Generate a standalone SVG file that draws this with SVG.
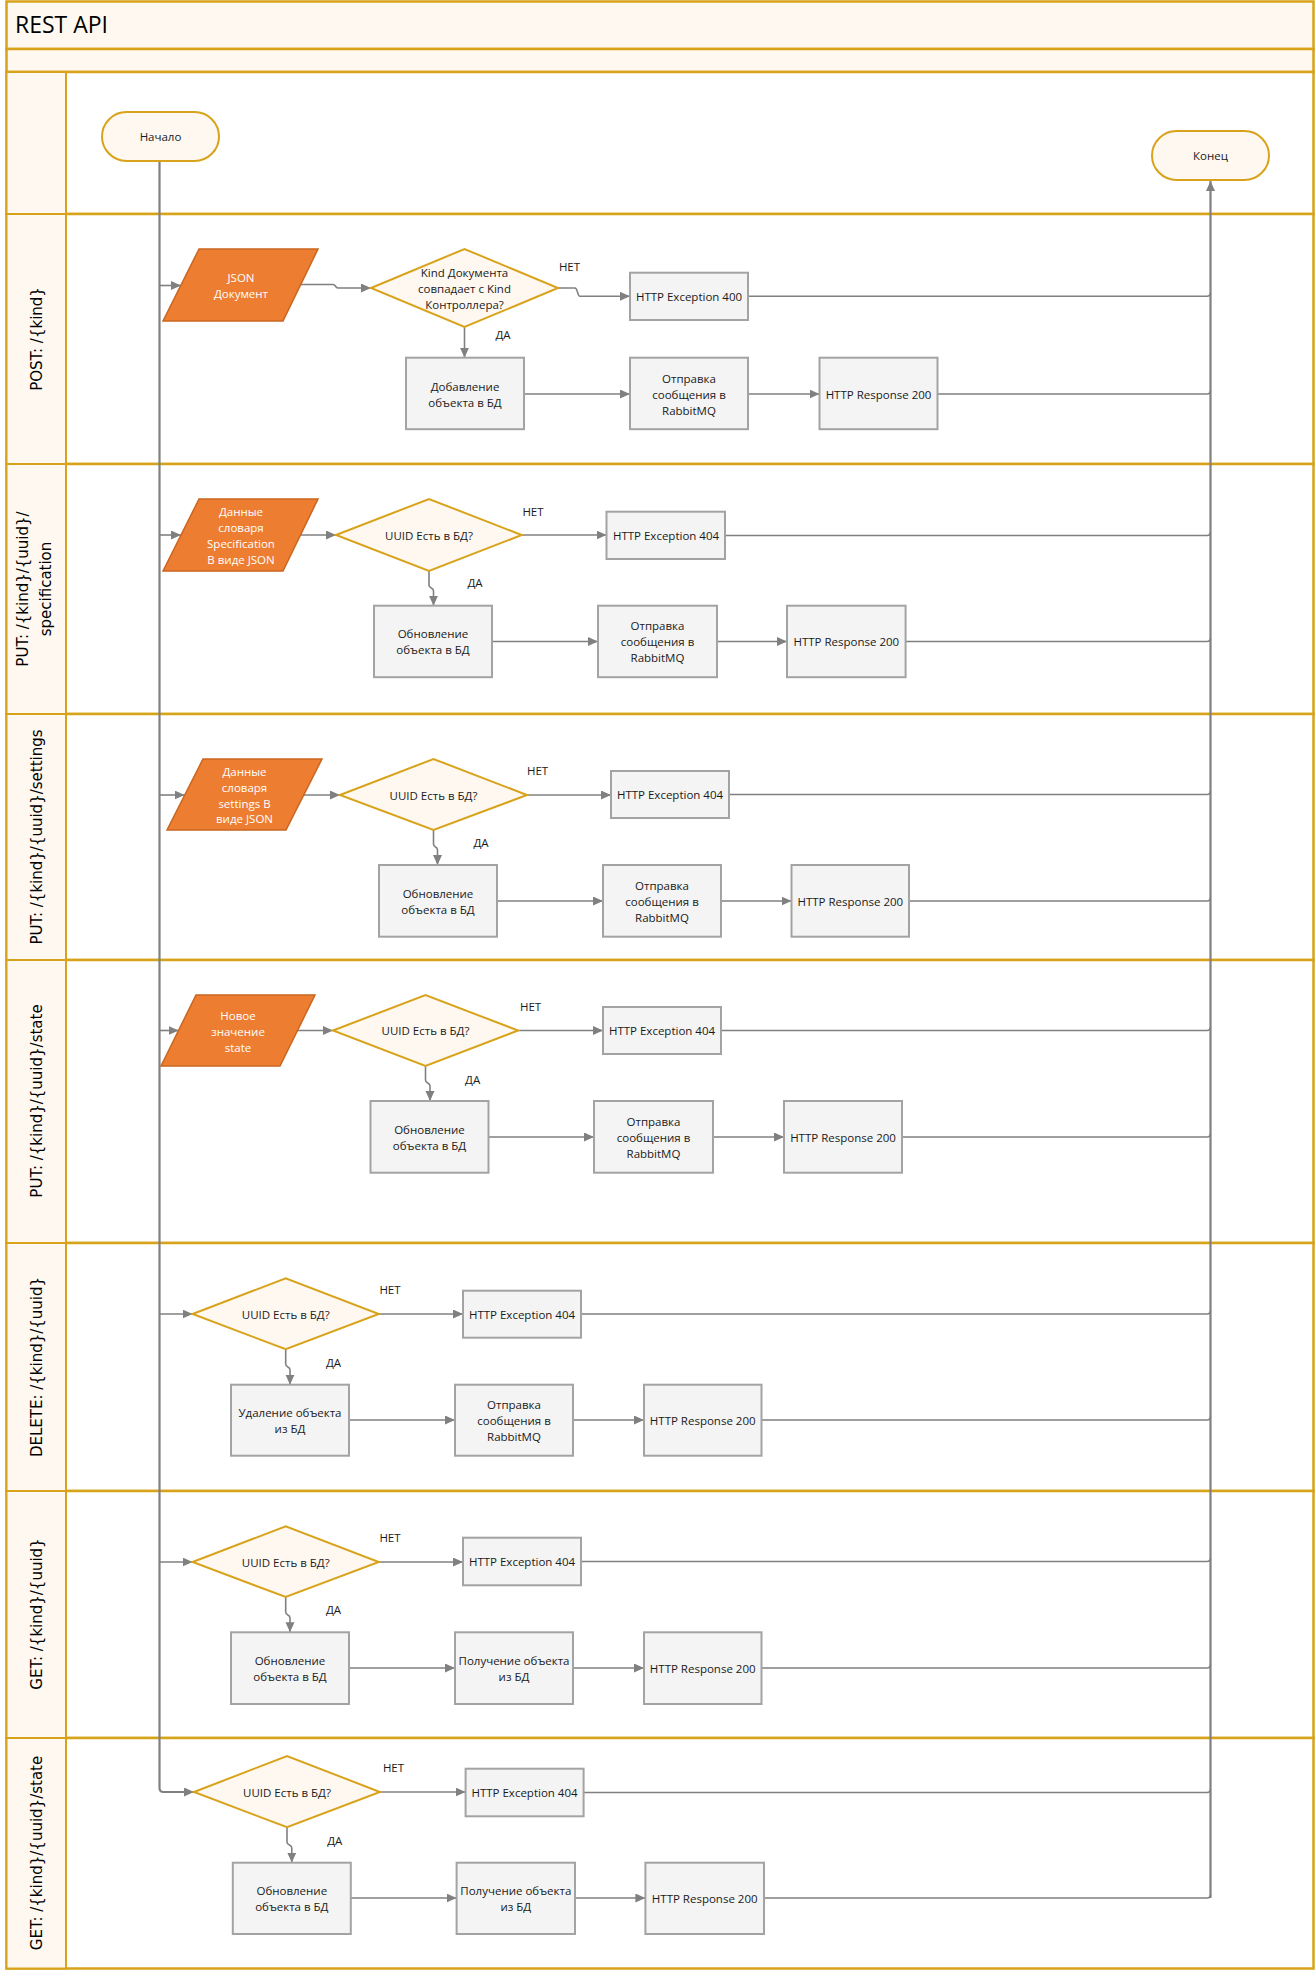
<svg xmlns="http://www.w3.org/2000/svg" width="1316" height="1971" viewBox="0 0 1316 1971">
<defs>
<marker id="arr" markerUnits="userSpaceOnUse" markerWidth="11" markerHeight="10" refX="10" refY="4.5" orient="auto">
<path d="M0,0 L10,4.5 L0,9 z" fill="#808080"/>
</marker>
<style>
.band{fill:#FEF8F1;stroke:#D8A31A;stroke-width:2.5}
.lane{fill:#FFFFFF;stroke:#D8A31A;stroke-width:2.5}
.hdr{fill:#FEF8F1;stroke:#D8A31A;stroke-width:2}
.term{fill:#FEF8F1;stroke:#D8A31A;stroke-width:2}
.box{fill:#F4F4F4;stroke:#A3A3A3;stroke-width:2}
.dia{fill:#FEF8F1;stroke:#D8A31A;stroke-width:2}
.par{fill:#ED7D31;stroke:#C9661F;stroke-width:1.5}
.t{font-family:"Open Sans","Liberation Sans",sans-serif;font-size:11.5px;fill:#1A1A1A;text-anchor:middle;dominant-baseline:central}
.tw{font-family:"Open Sans","Liberation Sans",sans-serif;font-size:11.5px;fill:#FFFFFF;text-anchor:middle;dominant-baseline:central}
.lh{font-family:"DejaVu Sans","Liberation Sans",sans-serif;font-size:15px;fill:#000000;text-anchor:middle}
.title{font-family:"Open Sans","Liberation Sans",sans-serif;font-size:23px;fill:#000000}
.c{fill:none;stroke:#808080;stroke-width:1.6}
.cm{fill:none;stroke:#808080;stroke-width:2.2}
.a{marker-end:url(#arr)}
</style>
</defs>

<g id="pool">
<rect class="band" x="6.5" y="1.5" width="1307" height="47.5"/>
<text class="title" x="15" y="33">REST API</text>
<rect class="band" x="6.5" y="49" width="1307" height="23"/>
<rect class="lane" x="6.5" y="72" width="1307" height="142"/>
<rect class="lane" x="6.5" y="214" width="1307" height="250"/>
<rect class="lane" x="6.5" y="464" width="1307" height="250"/>
<rect class="lane" x="6.5" y="714" width="1307" height="246"/>
<rect class="lane" x="6.5" y="960" width="1307" height="283"/>
<rect class="lane" x="6.5" y="1243" width="1307" height="248"/>
<rect class="lane" x="6.5" y="1491" width="1307" height="247"/>
<rect class="lane" x="6.5" y="1738" width="1307" height="230.5"/>
<rect class="hdr" x="6.5" y="72" width="59.5" height="142"/>
<rect class="hdr" x="6.5" y="214" width="59.5" height="250"/>
<rect class="hdr" x="6.5" y="464" width="59.5" height="250"/>
<rect class="hdr" x="6.5" y="714" width="59.5" height="246"/>
<rect class="hdr" x="6.5" y="960" width="59.5" height="283"/>
<rect class="hdr" x="6.5" y="1243" width="59.5" height="248"/>
<rect class="hdr" x="6.5" y="1491" width="59.5" height="247"/>
<rect class="hdr" x="6.5" y="1738" width="59.5" height="230.5"/>
<text class="lh" transform="translate(42,339) rotate(-90)">POST: /{kind}</text>
<text class="lh" transform="translate(28,589) rotate(-90)">PUT: /{kind}/{uuid}/</text>
<text class="lh" transform="translate(51,589) rotate(-90)">specification</text>
<text class="lh" transform="translate(42,837) rotate(-90)">PUT: /{kind}/{uuid}/settings</text>
<text class="lh" transform="translate(42,1101) rotate(-90)">PUT: /{kind}/{uuid}/state</text>
<text class="lh" transform="translate(42,1367) rotate(-90)">DELETE: /{kind}/{uuid}</text>
<text class="lh" transform="translate(42,1614) rotate(-90)">GET: /{kind}/{uuid}</text>
<text class="lh" transform="translate(42,1853) rotate(-90)">GET: /{kind}/{uuid}/state</text>
</g>

<g id="connectors">
<path class="cm" d="M159.5,161 V1788 Q159.5,1792 163.5,1792 H194" marker-end="url(#arr)"/>
<path class="cm" d="M1210.5,1898 V181" marker-end="url(#arr)"/>
<!-- lane 1 -->
<path class="c a" d="M159.5,285.5 H181"/>
<path class="c a" d="M300.5,284.5 H333 C336,284.5 335,288 338,288 H371"/>
<path class="c a" d="M558,288 H575 C578,288 577,296.3 580,296.3 H630"/>
<path class="c a" d="M464.5,327 V357.7"/>
<path class="c a" d="M524,394 H630"/>
<path class="c a" d="M748,394 H819.5"/>
<path class="c" d="M937.5,394 H1207 Q1210.5,394 1210.5,390.5"/>
<path class="c" d="M748,296.3 H1207 Q1210.5,296.3 1210.5,292.8"/>
<!-- lane 2 -->
<path class="c a" d="M159.5,535 H181"/>
<path class="c a" d="M300.5,535 H336"/>
<path class="c a" d="M521.7,535 H606.5"/>
<path class="c a" d="M429,571 V585 C429,589 433.5,587 433.5,591 V605.7"/>
<path class="c a" d="M492,641.5 H598"/>
<path class="c a" d="M717,641.5 H787"/>
<path class="c" d="M905.6,641.5 H1207 Q1210.5,641.5 1210.5,638"/>
<path class="c" d="M725,535.5 H1207 Q1210.5,535.5 1210.5,532"/>
<!-- lane 3 -->
<path class="c a" d="M159.5,795 H184.7"/>
<path class="c a" d="M303.7,795 H340"/>
<path class="c a" d="M527,795 H611"/>
<path class="c a" d="M433.5,830 V844 C433.5,848 437.5,846 437.5,850 V865"/>
<path class="c a" d="M497,901 H603"/>
<path class="c a" d="M721,901 H791.5"/>
<path class="c" d="M909,901 H1207 Q1210.5,901 1210.5,897.5"/>
<path class="c" d="M729,794.5 H1207 Q1210.5,794.5 1210.5,791"/>
<!-- lane 4 -->
<path class="c a" d="M159.5,1030.5 H178.7"/>
<path class="c a" d="M297.5,1030.5 H333"/>
<path class="c a" d="M518,1030.5 H603"/>
<path class="c a" d="M425.5,1066 V1080 C425.5,1084 430,1082 430,1086 V1101"/>
<path class="c a" d="M488.5,1137 H594"/>
<path class="c a" d="M713,1137 H784"/>
<path class="c" d="M902,1137 H1207 Q1210.5,1137 1210.5,1133.5"/>
<path class="c" d="M721,1030.5 H1207 Q1210.5,1030.5 1210.5,1027"/>
<!-- lane 5 -->
<path class="c a" d="M159.5,1314 H192.6"/>
<path class="c a" d="M378.8,1314 H463"/>
<path class="c a" d="M285.7,1349.3 V1364 C285.7,1368 290,1366 290,1370 V1384.7"/>
<path class="c a" d="M349,1420 H455"/>
<path class="c a" d="M573,1420 H644"/>
<path class="c" d="M761.5,1420 H1207 Q1210.5,1420 1210.5,1416.5"/>
<path class="c" d="M581,1314 H1207 Q1210.5,1314 1210.5,1310.5"/>
<!-- lane 6 -->
<path class="c a" d="M159.5,1562 H192.6"/>
<path class="c a" d="M378.8,1562 H463"/>
<path class="c a" d="M285.7,1597 V1612 C285.7,1616 290,1614 290,1618 V1632.3"/>
<path class="c a" d="M349,1668 H455"/>
<path class="c a" d="M573,1668 H644"/>
<path class="c" d="M761.5,1668 H1207 Q1210.5,1668 1210.5,1664.5"/>
<path class="c" d="M581,1561.5 H1207 Q1210.5,1561.5 1210.5,1558"/>
<!-- lane 7 -->
<path class="c a" d="M380,1792 H465.6"/>
<path class="c a" d="M287,1827.3 V1842 C287,1846 291.8,1844 291.8,1848 V1862.7"/>
<path class="c a" d="M350.8,1898 H456.6"/>
<path class="c a" d="M575,1898 H645.4"/>
<path class="c" d="M764,1898 H1207 Q1210.5,1898 1210.5,1894.5"/>
<path class="c" d="M583.5,1792.5 H1207 Q1210.5,1792.5 1210.5,1789"/>
</g>

<g id="start"><rect class="term" x="102" y="112" width="117" height="49" rx="24.5"/><text class="t" x="160.5" y="136.5">Начало</text></g>
<g id="end"><rect class="term" x="1152" y="131" width="117" height="49" rx="24.5"/><text class="t" x="1210.5" y="155.5">Конец</text></g>

<!-- lane 1 -->
<g id="l1-input"><polygon class="par" points="199,249 318,249 283,321 163,321"/><text class="tw" x="241" y="277">JSON</text><text class="tw" x="241" y="293.5">Документ</text></g>
<g id="l1-check"><polygon class="dia" points="371,288 464.5,249 558,288 464.5,327"/><text class="t" x="464.5" y="272.7">Kind Документа</text><text class="t" x="464.5" y="288.3">совпадает с Kind</text><text class="t" x="464.5" y="304">Контроллера?</text></g>
<g id="l1-labels"><text class="t" x="569.5" y="266.7">НЕТ</text><text class="t" x="503" y="334">ДА</text></g>
<g id="l1-exc"><rect class="box" x="630" y="272.7" width="118" height="47.3"/><text class="t" x="689" y="296.3">HTTP Exception 400</text></g>
<g id="l1-db"><rect class="box" x="406" y="357.7" width="118" height="71.5"/><text class="t" x="465" y="386">Добавление</text><text class="t" x="465" y="402.5">объекта в БД</text></g>
<g id="l1-mq"><rect class="box" x="630" y="357.7" width="118" height="71.5"/><text class="t" x="689" y="378">Отправка</text><text class="t" x="689" y="394">сообщения в</text><text class="t" x="689" y="410">RabbitMQ</text></g>
<g id="l1-ok"><rect class="box" x="819.5" y="357.7" width="118" height="71.5"/><text class="t" x="878.5" y="394">HTTP Response 200</text></g>

<!-- lane 2 -->
<g id="l2-input"><polygon class="par" points="199,499 318,499 283,571 163,571"/><text class="tw" x="241" y="511.7">Данные</text><text class="tw" x="241" y="527.3">словаря</text><text class="tw" x="241" y="543.3">Specification</text><text class="tw" x="241" y="559">В виде JSON</text></g>
<g id="l2-check"><polygon class="dia" points="336,535 429,499 521.7,535 429,571"/><text class="t" x="429" y="535">UUID Есть в БД?</text></g>
<g id="l2-labels"><text class="t" x="533" y="511.7">НЕТ</text><text class="t" x="475" y="582.7">ДА</text></g>
<g id="l2-exc"><rect class="box" x="606.5" y="511.7" width="118.5" height="47.3"/><text class="t" x="666" y="535.5">HTTP Exception 404</text></g>
<g id="l2-db"><rect class="box" x="374" y="605.7" width="118" height="71.5"/><text class="t" x="433" y="633.5">Обновление</text><text class="t" x="433" y="649.5">объекта в БД</text></g>
<g id="l2-mq"><rect class="box" x="598" y="605.7" width="119" height="71.5"/><text class="t" x="657.5" y="625.5">Отправка</text><text class="t" x="657.5" y="641.5">сообщения в</text><text class="t" x="657.5" y="657.5">RabbitMQ</text></g>
<g id="l2-ok"><rect class="box" x="787" y="605.7" width="118.6" height="71.5"/><text class="t" x="846.3" y="641.5">HTTP Response 200</text></g>

<!-- lane 3 -->
<g id="l3-input"><polygon class="par" points="203,759 322,759 286,830 167,830"/><text class="tw" x="244.5" y="771.5">Данные</text><text class="tw" x="244.5" y="787.3">словаря</text><text class="tw" x="244.5" y="803.3">settings В</text><text class="tw" x="244.5" y="818.7">виде JSON</text></g>
<g id="l3-check"><polygon class="dia" points="340,795 433.5,759 527,795 433.5,830"/><text class="t" x="433.5" y="795">UUID Есть в БД?</text></g>
<g id="l3-labels"><text class="t" x="537.6" y="770.7">НЕТ</text><text class="t" x="481" y="842.7">ДА</text></g>
<g id="l3-exc"><rect class="box" x="611" y="771" width="118" height="47"/><text class="t" x="670" y="794.5">HTTP Exception 404</text></g>
<g id="l3-db"><rect class="box" x="379" y="865" width="118" height="71.7"/><text class="t" x="438" y="893">Обновление</text><text class="t" x="438" y="909">объекта в БД</text></g>
<g id="l3-mq"><rect class="box" x="603" y="865" width="118" height="71.7"/><text class="t" x="662" y="885">Отправка</text><text class="t" x="662" y="901">сообщения в</text><text class="t" x="662" y="917">RabbitMQ</text></g>
<g id="l3-ok"><rect class="box" x="791.5" y="865" width="117.5" height="71.7"/><text class="t" x="850.3" y="901">HTTP Response 200</text></g>

<!-- lane 4 -->
<g id="l4-input"><polygon class="par" points="196,995 315,995 280,1066 161,1066"/><text class="tw" x="238" y="1015.3">Новое</text><text class="tw" x="238" y="1031.3">значение</text><text class="tw" x="238" y="1047.3">state</text></g>
<g id="l4-check"><polygon class="dia" points="333,1030.5 425.5,995 518,1030.5 425.5,1066"/><text class="t" x="425.5" y="1030.5">UUID Есть в БД?</text></g>
<g id="l4-labels"><text class="t" x="530.6" y="1006.7">НЕТ</text><text class="t" x="472.6" y="1079">ДА</text></g>
<g id="l4-exc"><rect class="box" x="603" y="1007" width="118" height="47"/><text class="t" x="662" y="1030.5">HTTP Exception 404</text></g>
<g id="l4-db"><rect class="box" x="370.5" y="1101" width="118" height="71.7"/><text class="t" x="429.5" y="1129">Обновление</text><text class="t" x="429.5" y="1145">объекта в БД</text></g>
<g id="l4-mq"><rect class="box" x="594" y="1101" width="119" height="71.7"/><text class="t" x="653.5" y="1121">Отправка</text><text class="t" x="653.5" y="1137">сообщения в</text><text class="t" x="653.5" y="1153">RabbitMQ</text></g>
<g id="l4-ok"><rect class="box" x="784" y="1101" width="118" height="71.7"/><text class="t" x="843" y="1137">HTTP Response 200</text></g>

<!-- lane 5 -->
<g id="l5-check"><polygon class="dia" points="192.6,1314 285.7,1278.3 378.8,1314 285.7,1349.3"/><text class="t" x="285.7" y="1314">UUID Есть в БД?</text></g>
<g id="l5-labels"><text class="t" x="390" y="1289.3">НЕТ</text><text class="t" x="333.5" y="1362.3">ДА</text></g>
<g id="l5-exc"><rect class="box" x="463" y="1290.7" width="118" height="47"/><text class="t" x="522" y="1314.2">HTTP Exception 404</text></g>
<g id="l5-db"><rect class="box" x="231" y="1384.7" width="118" height="71"/><text class="t" x="290" y="1412">Удаление объекта</text><text class="t" x="290" y="1428">из БД</text></g>
<g id="l5-mq"><rect class="box" x="455" y="1384.7" width="118" height="71"/><text class="t" x="514" y="1404">Отправка</text><text class="t" x="514" y="1420">сообщения в</text><text class="t" x="514" y="1436">RabbitMQ</text></g>
<g id="l5-ok"><rect class="box" x="644" y="1384.7" width="117.5" height="71"/><text class="t" x="702.7" y="1420">HTTP Response 200</text></g>

<!-- lane 6 -->
<g id="l6-check"><polygon class="dia" points="192.6,1562 285.7,1526.3 378.8,1562 285.7,1597"/><text class="t" x="285.7" y="1562">UUID Есть в БД?</text></g>
<g id="l6-labels"><text class="t" x="390" y="1537.3">НЕТ</text><text class="t" x="333.5" y="1609">ДА</text></g>
<g id="l6-exc"><rect class="box" x="463" y="1537.7" width="118" height="47.6"/><text class="t" x="522" y="1561.5">HTTP Exception 404</text></g>
<g id="l6-db"><rect class="box" x="231" y="1632.3" width="118" height="71.7"/><text class="t" x="290" y="1660">Обновление</text><text class="t" x="290" y="1676">объекта в БД</text></g>
<g id="l6-get"><rect class="box" x="455" y="1632.3" width="118" height="71.7"/><text class="t" x="514" y="1660">Получение объекта</text><text class="t" x="514" y="1676">из БД</text></g>
<g id="l6-ok"><rect class="box" x="644" y="1632.3" width="117.5" height="71.7"/><text class="t" x="702.7" y="1668">HTTP Response 200</text></g>

<!-- lane 7 -->
<g id="l7-check"><polygon class="dia" points="194,1792 287,1756 380,1792 287,1827.3"/><text class="t" x="287" y="1792">UUID Есть в БД?</text></g>
<g id="l7-labels"><text class="t" x="393.5" y="1767.3">НЕТ</text><text class="t" x="334.8" y="1840">ДА</text></g>
<g id="l7-exc"><rect class="box" x="465.6" y="1768.7" width="118" height="47.6"/><text class="t" x="524.5" y="1792.5">HTTP Exception 404</text></g>
<g id="l7-db"><rect class="box" x="232.8" y="1862.7" width="118" height="71.3"/><text class="t" x="291.8" y="1890">Обновление</text><text class="t" x="291.8" y="1906">объекта в БД</text></g>
<g id="l7-get"><rect class="box" x="456.6" y="1862.7" width="118.4" height="71.3"/><text class="t" x="515.8" y="1890">Получение объекта</text><text class="t" x="515.8" y="1906">из БД</text></g>
<g id="l7-ok"><rect class="box" x="645.4" y="1862.7" width="118.6" height="71.3"/><text class="t" x="704.7" y="1898">HTTP Response 200</text></g>
</svg>
